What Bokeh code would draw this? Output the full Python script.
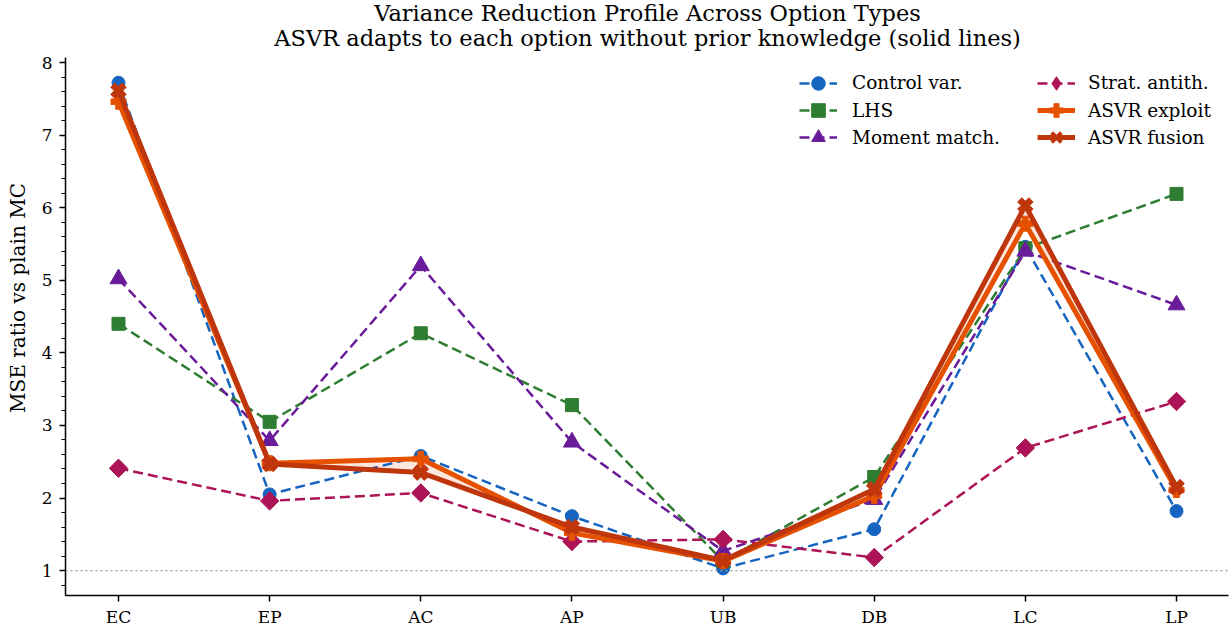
from bokeh.plotting import figure
from bokeh.models import (Range1d, FixedTicker, SingleIntervalTicker, Legend, LegendItem,
                          Span, Label)
from bokeh.embed import file_html
from bokeh.resources import INLINE
import math

categories = ["EC", "EP", "AC", "AP", "UB", "DB", "LC", "LP"]
control_var = [7.72, 2.05, 2.58, 1.75, 1.03, 1.57, 5.46, 1.82]
lhs = [4.40, 3.05, 4.27, 3.28, 1.13, 2.29, 5.44, 6.19]
moment_match = [5.02, 2.79, 5.20, 2.77, 1.27, 1.98, 5.40, 4.66]
strat_antith = [2.41, 1.96, 2.07, 1.40, 1.43, 1.18, 2.69, 3.33]
asvr_exploit = [7.46, 2.48, 2.54, 1.52, 1.13, 2.03, 5.78, 2.11]
asvr_fusion = [7.61, 2.47, 2.35, 1.60, 1.14, 2.12, 6.03, 2.15]

series_labels = ["Control var.", "LHS", "Moment match.", "Strat. antith.", "ASVR exploit", "ASVR fusion"]
title_line1 = "Variance Reduction Profile Across Option Types"
title_line2 = "ASVR adapts to each option without prior knowledge (solid lines)"
y_label = "MSE ratio vs plain MC"

FONT = "DejaVu Serif"
xs = list(range(len(categories)))

W, H = 1230, 630
BL, BR, BT, BB = 65, 2, 0, 35
FW, FH = W - BL - BR, H - BT - BB
Y0, Y1 = 0.657, 8.069          # visible axis extent
PXU = (FH - 57) / (Y1 - Y0)     # pixels per unit, axes top 57px below canvas top
YTOP = Y1 + 57 / PXU


def y_at(pix):  # canvas pixel row -> data value
    return Y0 + (FH - pix) / PXU


p = figure(width=W, height=H, output_backend="svg", toolbar_location=None,
           x_range=Range1d(-0.3507, 7.344), y_range=Range1d(Y0, YTOP),
           min_border_left=BL, min_border_right=BR, min_border_bottom=BB, min_border_top=BT)
p.title = None
p.grid.visible = False
p.outline_line_color = None
p.background_fill_color = "white"

xc = (len(categories) - 1) / 2
p.add_layout(Label(x=xc, y=y_at(12.5), text=title_line1, text_font=FONT, text_font_size="22.5px",
                   text_color="black", text_align="center", text_baseline="middle"))
p.add_layout(Label(x=xc, y=y_at(37), text=title_line2, text_font=FONT, text_font_size="22.5px",
                   text_color="black", text_align="center", text_baseline="middle"))

# axes
p.xaxis.ticker = FixedTicker(ticks=xs)
p.xaxis.major_label_overrides = {i: c for i, c in enumerate(categories)}
p.yaxis.ticker = SingleIntervalTicker(interval=1, num_minor_ticks=5)
p.yaxis.bounds = (Y0, Y1)
for ax in (p.xaxis[0], p.yaxis[0]):
    ax.axis_line_color = "black"
    ax.axis_line_width = 1.5
    ax.major_tick_line_color = "black"
    ax.major_tick_line_width = 1.5
    ax.major_tick_out = 6
    ax.major_tick_in = 0
    ax.minor_tick_line_color = "black"
    ax.minor_tick_line_width = 1.2
    ax.minor_tick_out = 4
    ax.minor_tick_in = 0
    ax.major_label_text_font = FONT
    ax.major_label_text_font_size = "17px"
    ax.major_label_text_color = "black"
p.xaxis.major_label_standoff = 5
p.yaxis.major_label_standoff = 7
p.yaxis.axis_label = y_label
p.yaxis.axis_label_text_font = FONT
p.yaxis.axis_label_text_font_size = "20px"
p.yaxis.axis_label_text_font_style = "normal"
p.yaxis.axis_label_text_color = "black"
p.yaxis.axis_label_standoff = 9

p.add_layout(Span(location=1, dimension="width", line_color="#999999",
                  line_dash="2 3", line_width=1.2))

# band between ASVR variants
p.varea(x=xs, y1=asvr_exploit, y2=asvr_fusion, fill_color="#E65100", fill_alpha=0.13)

# (values, colour, marker, size, angle, legend marker)
dashed = [
    (control_var, "#1565C0", "circle", 13, 0.0, None),
    (lhs, "#2E7D32", "square", 13, 0.0, None),
    (moment_match, "#6A1B9A", "triangle", 17, 0.0, None),
    (strat_antith, "#AD1457", "square", 13, math.pi / 4, "diamond"),
]
solid = [
    (asvr_exploit, "#E65100", "plus", 15, 0.0, None),
    (asvr_fusion, "#BF360C", "plus", 16, math.pi / 4, "x"),
]

items = []
k = 0
for group, lw, dash in ((dashed, 2.5, "10 5"), (solid, 5, "solid")):
    for vals, col, mk, sz, ang, leg_mk in group:
        rl = p.line(xs, vals, line_color=col, line_width=lw, line_dash=dash)
        rs = p.scatter(xs, vals, marker=mk, size=sz, angle=ang, fill_color=col, line_color=col)
        rends = [rl, rs]
        if leg_mk is not None:
            rh = p.scatter(xs, vals, marker=leg_mk, size=sz, fill_color=col, line_color=col,
                           line_width=4 if leg_mk == "x" else 1, visible=False)
            rends = [rl, rh]
        items.append(LegendItem(label=series_labels[k], renderers=rends))
        k += 1

row_centers = [82.7, 110, 137.3]
col_x = [734, 972]
standoffs = [15, 13]
for i, it in enumerate(items):
    c = i // 3
    r = i % 3
    yloc = FH + 17 - 34 - row_centers[r]
    lg = Legend(items=[it], location=(col_x[c], yloc), orientation="vertical",
                label_text_font=FONT, label_text_font_size="18.5px", label_text_color="black",
                glyph_width=38, glyph_height=34, label_height=34, spacing=0, padding=0, margin=0,
                label_standoff=standoffs[c], border_line_alpha=0, background_fill_alpha=0)
    p.add_layout(lg)

open("out.html", "w").write(file_html(p, INLINE))
